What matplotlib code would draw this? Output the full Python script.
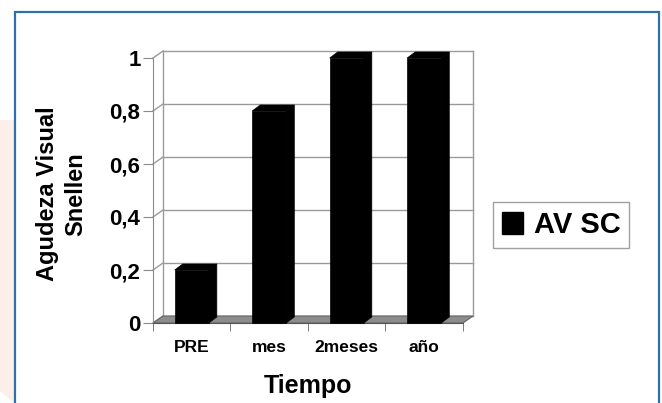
import matplotlib
matplotlib.use('Agg')
import matplotlib.pyplot as plt
from matplotlib.patches import Polygon, Rectangle, Patch

# Daten
categories = ['PRE', 'mes', '2meses', 'año']
values = [0.2, 0.8, 1.0, 1.0]
yticks = [0, 0.2, 0.4, 0.6, 0.8, 1.0]
ytick_labels = ['0', '0,2', '0,4', '0,6', '0,8', '1']
series_name = 'AV SC'

W, H = 662, 403
fig = plt.figure(figsize=(W / 100, H / 100), dpi=100)
fig.patch.set_facecolor('white')

# Hintergrund: rosa Fläche links und blauer Rahmen
fig.add_artist(Polygon([(0, 1 - 120 / H), (14 / W, 1 - 120 / H), (14 / W, 0), (0, 12 / H)],
                       closed=True, transform=fig.transFigure, facecolor='#fcefe9', edgecolor='none'))
fig.add_artist(Rectangle((15 / W, -0.05), 644 / W, 1.05 - 12 / H, transform=fig.transFigure,
                         facecolor='none', edgecolor='#2f6fac', lw=1.6))

# Achse: vorne x -0.5..3.5, Tiefe DX/DY
DX = 10 / 77.25
DY = 7 / 265
left, right, top, bottom = 153, 473, 51, 323
ax = fig.add_axes([left / W, 1 - bottom / H, (right - left) / W, (bottom - top) / H])
ax.set_xlim(-0.5, 3.5 + DX)
ax.set_ylim(0, 1 + DY)
ax.set_facecolor('none')
for s in ['top', 'right']:
    ax.spines[s].set_visible(False)
ax.spines['left'].set_bounds(0, 1)
ax.spines['bottom'].set_bounds(-0.5, 3.5)
ax.spines['left'].set_color('#8a8a8a')
ax.spines['bottom'].set_color('#555555')

grid_c = '#9a9a9a'
x0, x1 = -0.5, 3.5
# Rückwand und Gitter
for v in yticks:
    ax.plot([x0 + DX, x1 + DX], [v + DY, v + DY], color=grid_c, lw=1.0, clip_on=False, zorder=1)
    ax.plot([x0, x0 + DX], [v, v + DY], color=grid_c, lw=1.0, clip_on=False, zorder=1)
ax.plot([x0 + DX, x0 + DX], [DY, 1 + DY], color=grid_c, lw=1.0, clip_on=False, zorder=1)
ax.plot([x1 + DX, x1 + DX], [DY, 1 + DY], color=grid_c, lw=1.0, clip_on=False, zorder=1)

# Boden
ax.add_patch(Polygon([(x0, 0), (x1, 0), (x1 + DX, DY), (x0 + DX, DY)], closed=True,
                     facecolor='#8c8c8c', edgecolor='#666666', lw=0.8, clip_on=False, zorder=2))

# Balken (3D)
w = 0.44
bdx = 8 / 77.25
bdy = 6 / 265
xs = list(range(len(categories)))
ax.bar(xs, values, width=w, color='black', edgecolor='black', lw=0.5, zorder=4, clip_on=False)
for x, v in zip(xs, values):
    xl, xr = x - w / 2, x + w / 2
    ax.add_patch(Polygon([(xr, 0), (xr + bdx, bdy), (xr + bdx, v + bdy), (xr, v)], closed=True,
                         facecolor='black', edgecolor='black', lw=0.5, zorder=3, clip_on=False))
    ax.add_patch(Polygon([(xl, v), (xr, v), (xr + bdx, v + bdy), (xl + bdx, v + bdy)], closed=True,
                         facecolor='black', edgecolor='black', lw=0.5, zorder=3, clip_on=False))

# Ticks
ax.set_yticks(yticks)
ax.set_yticklabels(ytick_labels, fontfamily='Liberation Sans', fontweight='bold', fontsize=16)
ax.tick_params(axis='y', length=7, color='#8a8a8a', pad=2)
ax.set_xticks(xs)
ax.set_xticklabels(categories, fontfamily='Liberation Sans', fontweight='bold', fontsize=12.5)
ax.tick_params(axis='x', which='major', length=0, pad=12)
ax.set_xticks([-0.5, 0.5, 1.5, 2.5, 3.5], minor=True)
ax.tick_params(axis='x', which='minor', length=6, color='#666666')

# Achsentitel
fig.text(62 / W, 1 - 194 / H, 'Agudeza Visual\nSnellen', rotation=90, ha='center', va='center',
         fontfamily='Liberation Sans', fontweight='bold', fontsize=17, linespacing=1.3,
         multialignment='center')
fig.text(308 / W, 1 - 386 / H, 'Tiempo', ha='center', va='center',
         fontfamily='Liberation Sans', fontweight='bold', fontsize=18)

# Legende
leg = fig.legend(handles=[Patch(facecolor='black', edgecolor='black')], labels=[series_name],
                 loc='center', bbox_to_anchor=(561 / W, 1 - 225 / H), frameon=True, fancybox=False,
                 handlelength=0.75, handleheight=0.75, handletextpad=0.35, borderpad=0.3,
                 borderaxespad=0, prop={'family': 'Liberation Sans', 'weight': 'bold', 'size': 21})
leg.get_frame().set_edgecolor('#888888')
leg.get_frame().set_linewidth(1.0)

fig.savefig('out.png', dpi=100)
